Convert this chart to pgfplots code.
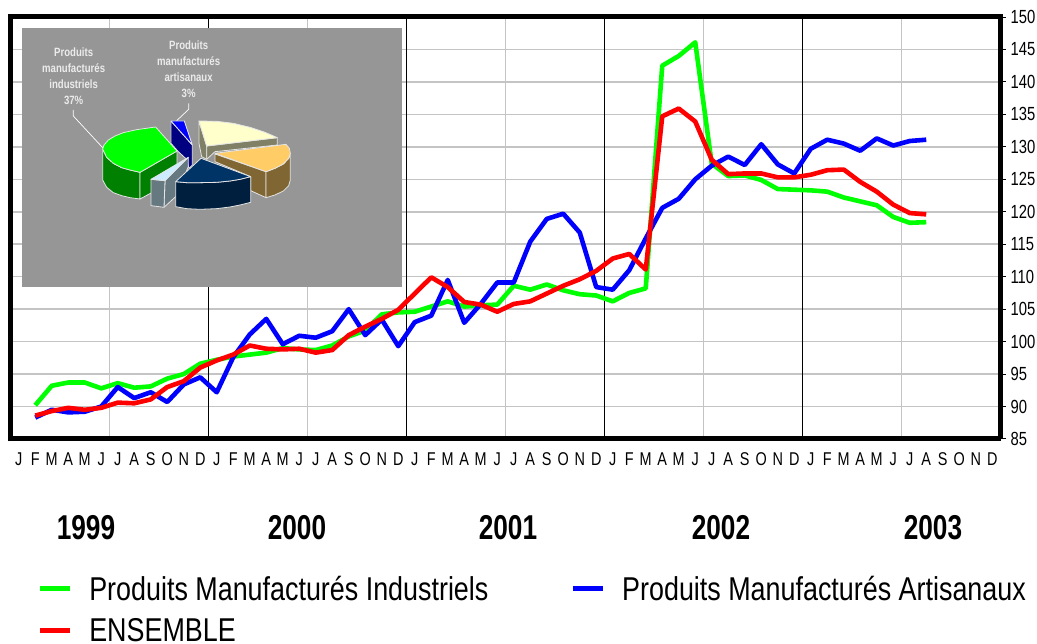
\documentclass[border=0pt]{standalone}
\usepackage{pgfplots}
\usepackage{pgfplotstable}
\usepackage{fontspec}
\pgfplotsset{compat=1.18}
\setmainfont{Liberation Sans}
\newfontfamily\nar[FakeStretch=0.78]{Liberation Sans}
\newfontfamily\narleg[FakeStretch=0.815]{Liberation Sans}
\newfontfamily\naryear[FakeStretch=0.76]{Liberation Sans}
\newfontfamily\narpie[FakeStretch=0.8]{Liberation Sans}
\definecolor{gridc}{HTML}{C4C4C4}
\definecolor{greenL}{HTML}{00FF00}
\definecolor{pieg}{HTML}{969696}
\pgfplotstableread{
x green blue red
1.5 90.2 88.3 88.6
2.5 93.2 89.5 89.3
3.5 93.7 89.1 89.8
4.5 93.7 89.2 89.5
5.5 92.8 90.0 89.8
6.5 93.6 93.0 90.6
7.5 92.9 91.3 90.5
8.5 93.1 92.2 91.1
9.5 94.3 90.7 93.0
10.5 95.0 93.4 93.9
11.5 96.6 94.5 96.0
12.5 97.2 92.2 97.1
13.5 97.7 97.6 98.0
14.5 98.0 101.1 99.4
15.5 98.3 103.5 98.9
16.5 99.0 99.6 98.8
17.5 98.8 100.9 98.9
18.5 98.7 100.6 98.3
19.5 99.4 101.6 98.7
20.5 100.8 105.0 101.0
21.5 101.7 101.0 102.3
22.5 104.2 103.4 103.5
23.5 104.5 99.3 104.9
24.5 104.6 103.0 107.4
25.5 105.4 104.0 109.9
26.5 106.2 109.5 108.4
27.5 105.4 102.9 106.1
28.5 105.6 105.8 105.7
29.5 105.7 109.1 104.6
30.5 108.6 109.1 105.8
31.5 108.0 115.4 106.2
32.5 108.8 118.9 107.4
33.5 107.9 119.7 108.6
34.5 107.3 116.8 109.6
35.5 107.1 108.4 110.9
36.5 106.2 108.0 112.8
37.5 107.5 111.0 113.5
38.5 108.2 115.9 111.1
39.5 142.5 120.6 134.7
40.5 144.0 122.0 135.9
41.5 146.1 125.0 133.9
42.5 127.4 127.1 128.0
43.5 125.5 128.5 125.8
44.5 125.6 127.2 125.9
45.5 124.9 130.4 125.9
46.5 123.5 127.3 125.3
47.5 123.4 125.9 125.3
48.5 123.3 129.7 125.7
49.5 123.1 131.1 126.4
50.5 122.2 130.5 126.5
51.5 121.6 129.4 124.6
52.5 121.0 131.3 123.1
53.5 119.2 130.2 121.1
54.5 118.3 130.9 119.8
55.5 118.4 131.1 119.6
}\data
\begin{document}
\begin{tikzpicture}[x=1pt,y=1pt]
\path[use as bounding box] (0,0) rectangle (1037,644);
\begin{axis}[
  at={(10.5pt,205pt)}, anchor=south west, scale only axis,
  width=990pt, height=422pt,
  xmin=0, xmax=60, ymin=85, ymax=150,
  axis line style={line width=5pt, black},
  axis y line*=right,
  axis x line*=bottom,
  clip=true,
  ytick={85,90,...,150},
  ymajorgrids, major grid style={line width=1.5pt, gridc},
  xtick={0.5,1.5,...,59.5},
  xticklabels={J,F,M,A,M,J,J,A,S,O,N,D,J,F,M,A,M,J,J,A,S,O,N,D,J,F,M,A,M,J,J,A,S,O,N,D,J,F,M,A,M,J,J,A,S,O,N,D,J,F,M,A,M,J,J,A,S,O,N,D},
  minor xtick={6,18,30,42,54},
  xminorgrids, minor grid style={line width=1pt, gridc},
  minor tick length=0pt,
  xtick style={draw=none},
  ytick style={line width=1pt, black},
  major tick length=5pt,
  tick align=outside,
  x tick label style={font=\nar\fontsize{18.5}{20}\selectfont, yshift=-5pt, /pgf/number format/assume math mode=true},
  y tick label style={font=\nar\fontsize{19}{21}\selectfont, /pgf/number format/assume math mode=true, xshift=1.5pt},
  extra x ticks={12,24,36,48},
  extra x tick labels={},
  extra x tick style={grid=major, major grid style={line width=1.2pt, black}, tick style={draw=none}},
  legend cell align=left,
  legend columns=2,
  legend style={at={(27pt,-137pt)}, anchor=north west, draw=none, fill=none, inner sep=0pt, outer sep=0pt,
    font=\narleg\fontsize{33}{35}\selectfont,
    /tikz/every even column/.append style={column sep=82pt}, /tikz/row sep=16.5pt,
    nodes={inner sep=0pt, outer sep=0pt}},
  legend image code/.code={\draw[#1, line width=5pt] (0pt,0pt) -- (30pt,0pt);\path (47pt,0pt);},
]
\addplot[greenL, line width=4.6pt, line join=round] table[x=x,y=green] {\data};
\addlegendentry{Produits Manufacturés Industriels}
\addplot[blue, line width=4.6pt, line join=round] table[x=x,y=blue] {\data};
\addlegendentry{Produits Manufacturés Artisanaux}
\addplot[red, line width=4.6pt, line join=round] table[x=x,y=red] {\data};
\addlegendentry{ENSEMBLE}
\end{axis}
\draw[black, line width=5pt] (10.5,202.5) -- (10.5,629.5);
\draw[black, line width=5pt] (8,627) -- (1003,627);
% pie inset
\begin{axis}[
  at={(0pt,0pt)}, anchor=south west, scale only axis, width=1037pt, height=644pt,
  xmin=0, xmax=3111, ymin=0, ymax=1932, y dir=reverse, hide axis, clip=false,
  every axis plot/.append style={draw=white!90!black, line width=0.8pt, line join=round},
]
\addplot[fill=pieg, draw=none] coordinates {(66,83)(1206,83)(1206,860)(66,860)} --cycle;
% green
\addplot[fill={rgb,255:red,0;green,128;blue,0}] coordinates {(308,447)(308,540)(320,562)(340,578)(365,587)(390,593)(420,597)(420,517)(390,510)(365,503)(340,490)(320,472)} --cycle;
\addplot[fill={rgb,255:red,0;green,128;blue,0}] coordinates {(420,517)(531,453)(531,537)(420,597)} --cycle;
\addplot[fill=greenL] coordinates {(308,447)(312,435)(325,420)(345,408)(370,398)(410,389)(467,381)(531,453)(420,517)(390,510)(365,503)(340,490)(320,472)} --cycle;
% blue
\addplot[fill={rgb,255:red,0;green,0;blue,128}] coordinates {(513,363)(577,435)(577,495)(567,505)(560,478)(535,455)(513,430)} --cycle;
\addplot[fill=blue] coordinates {(513,363)(553,363)(577,435)} --cycle;
% cream
\addplot[fill={rgb,255:red,128;green,128;blue,102}] coordinates {(597,363)(620,438)(620,478)(605,470)(597,430)} --cycle;
\addplot[fill={rgb,255:red,128;green,128;blue,102}] coordinates {(620,438)(832,413)(832,435)(645,455)(620,478)} --cycle;
\addplot[fill={rgb,255:red,255;green,255;blue,204}] coordinates {(597,363)(650,364)(700,370)(750,382)(795,397)(832,413)(620,438)} --cycle;
% orange
\addplot[fill={rgb,255:red,128;green,102;blue,51}] coordinates {(645,462)(798,515)(798,593)(752,572)(752,530)(645,485)} --cycle;
\addplot[fill={rgb,255:red,128;green,102;blue,51}] coordinates {(798,515)(825,505)(850,492)(866,475)(871,460)(871,540)(866,557)(850,573)(825,585)(798,593)} --cycle;
\addplot[fill={rgb,255:red,255;green,204;blue,102}] coordinates {(645,460)(858,433)(868,445)(871,460)(866,475)(850,492)(825,505)(798,515)} --cycle;
% light blue
\addplot[fill={rgb,255:red,102;green,120;blue,128}] coordinates {(495,542)(565,472)(565,500)(527,590)(492,622)} --cycle;
\addplot[fill={rgb,255:red,102;green,120;blue,128}] coordinates {(453,538)(495,542)(492,622)(453,617)} --cycle;
\addplot[fill={rgb,255:red,204;green,236;blue,255}] coordinates {(453,538)(565,472)(495,542)} --cycle;
% navy
\addplot[fill={rgb,255:red,0;green,30;blue,61}] coordinates {(527,545)(560,548)(600,548)(650,547)(690,543)(720,538)(752,530)(752,607)(720,615)(690,621)(650,626)(600,628)(560,626)(527,620)} --cycle;
\addplot[fill={rgb,255:red,0;green,51;blue,102}] coordinates {(603,475)(752,530)(720,538)(690,543)(650,547)(600,548)(560,548)(527,545)} --cycle;
% leaders
\addplot[white, line width=0.7pt] coordinates {(220,330)(220,348)(308,443)};
\addplot[white, line width=0.7pt] coordinates {(566,310)(566,328)(530,362)};
\node[align=center, text=white!92!black, font=\narpie\bfseries\fontsize{12}{16}\selectfont] at (axis cs:221,230) {Produits\\manufacturés\\industriels\\37\%};
\node[align=center, text=white!92!black, font=\narpie\bfseries\fontsize{12}{16}\selectfont] at (axis cs:566,209) {Produits\\manufacturés\\artisanaux\\3\%};
\end{axis}
\foreach \t/\px in {1999/86,2000/297,2001/508,2002/721,2003/933}{
  \node[font=\naryear\bfseries\fontsize{34.5}{36}\selectfont] at (\px,116.5) {\t};
}
\end{tikzpicture}
\end{document}
